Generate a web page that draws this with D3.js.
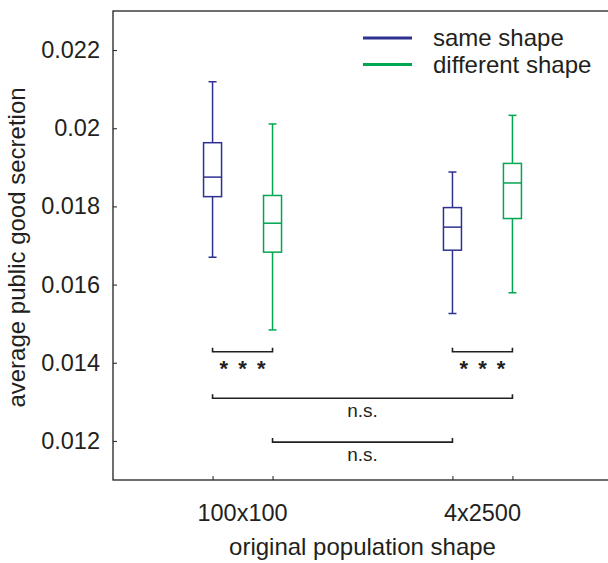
<!DOCTYPE html>
<html>
<head>
<meta charset="utf-8">
<script src="https://cdn.jsdelivr.net/npm/d3@7"></script>
<style>
  body { margin: 0; background: #fff; }
  text { font-family: "Liberation Sans", Arial, Helvetica, sans-serif; fill: #231f20; }
</style>
</head>
<body>
<div id="canvas"></div>
<script>
const W = 608, H = 563;
const margin = { top: 11, right: -4, bottom: 83, left: 113 };
const width = W - margin.left - margin.right;
const height = H - margin.top - margin.bottom;

// data: [lower whisker, Q1, median, Q3, upper whisker]
const groups = ["100x100", "4x2500"];
const seriesNames = ["same shape", "different shape"];
const seriesColors = ["#2e3192", "#00a651"];
const sameShape = [
  [0.01670, 0.01825, 0.01875, 0.01963, 0.02119],
  [0.01526, 0.01688, 0.01747, 0.01797, 0.01888]
];
const diffShape = [
  [0.01484, 0.01683, 0.01757, 0.01828, 0.02011],
  [0.01579, 0.01769, 0.01860, 0.01910, 0.02033]
];
const yTicks = [0.012, 0.014, 0.016, 0.018, 0.02, 0.022];
const yTickLabels = ["0.012", "0.014", "0.016", "0.018", "0.02", "0.022"];
// significance brackets: [group, series] endpoints, height, label
const brackets = [
  { a: [0, 0], b: [0, 1], y: 0.01428, label: "* * *" },
  { a: [1, 0], b: [1, 1], y: 0.01428, label: "* * *" },
  { a: [0, 0], b: [1, 1], y: 0.01309, label: "n.s." },
  { a: [0, 1], b: [1, 0], y: 0.01197, label: "n.s." }
];

const svg = d3.select("#canvas")
  .append("svg")
    .attr("width", W)
    .attr("height", H)
  .append("g")
    .attr("transform", `translate(${margin.left}, ${margin.top})`);

const xScale = d3.scaleLinear()
  .domain([0.46, 2.54])
  .range([0, width]);

const yScale = d3.scaleLinear()
  .domain([0.011, 0.023])
  .range([height, 0]);

const offset = 0.125;
const boxW = 18, capW = 8;
function xPos(g, s) { return xScale(g + 1 + (s === 0 ? -offset : offset)); }

// frame
svg.append("rect")
  .attr("width", width)
  .attr("height", height)
  .style("fill", "none")
  .style("stroke", "#231f20")
  .style("stroke-width", 1.3);

// y axis, ticks inward
const yAxis = d3.axisLeft(yScale).tickValues(yTicks).tickSize(-4).tickPadding(13)
  .tickFormat((d, i) => yTickLabels[i]);
svg.append("g")
  .attr("class", "y-axis")
  .call(yAxis)
  .call(g => g.select(".domain").remove())
  .call(g => g.selectAll("line").style("stroke", "#231f20"))
  .selectAll("text")
  .style("font-size", "23.5px")
  .style("fill", "#231f20");

// x axis: ticks at each box, labels at group centres
const tickPos = [];
groups.forEach((g, gi) => [0, 1].forEach(s => tickPos.push(gi + 1 + (s === 0 ? -offset : offset))));
svg.append("g")
  .attr("class", "x-axis")
  .attr("transform", `translate(0, ${height})`)
  .call(d3.axisBottom(xScale).tickValues(tickPos).tickSize(-4).tickFormat(""))
  .call(g => g.select(".domain").remove())
  .call(g => g.selectAll("line").style("stroke", "#231f20"));

svg.append("g")
  .selectAll("text")
  .data(groups)
  .enter().append("text")
  .attr("x", (d, i) => xScale(i + 1))
  .attr("y", height + 41)
  .attr("text-anchor", "middle")
  .style("font-size", "23.5px")
  .text(d => d);

svg.append("text")
  .attr("x", xScale(1.5))
  .attr("y", height + 75)
  .attr("text-anchor", "middle")
  .style("font-size", "24px")
  .text("original population shape");

svg.append("text")
  .attr("transform", `translate(-88, ${height / 2 + 2}) rotate(-90)`)
  .attr("text-anchor", "middle")
  .style("font-size", "24px")
  .text("average public good secretion");

// boxes
[sameShape, diffShape].forEach((series, s) => {
  const col = seriesColors[s];
  series.forEach((v, g) => {
    const cx = xPos(g, s);
    const box = svg.append("g").style("stroke", col).style("stroke-width", 1.5).style("fill", "none");
    box.append("line").attr("x1", cx).attr("x2", cx).attr("y1", yScale(v[0])).attr("y2", yScale(v[1]));
    box.append("line").attr("x1", cx).attr("x2", cx).attr("y1", yScale(v[3])).attr("y2", yScale(v[4]));
    box.append("line").attr("x1", cx - capW / 2).attr("x2", cx + capW / 2).attr("y1", yScale(v[0])).attr("y2", yScale(v[0]));
    box.append("line").attr("x1", cx - capW / 2).attr("x2", cx + capW / 2).attr("y1", yScale(v[4])).attr("y2", yScale(v[4]));
    box.append("rect").attr("x", cx - boxW / 2).attr("width", boxW)
      .attr("y", yScale(v[3])).attr("height", yScale(v[1]) - yScale(v[3]));
    box.append("line").attr("x1", cx - boxW / 2).attr("x2", cx + boxW / 2).attr("y1", yScale(v[2])).attr("y2", yScale(v[2]));
  });
});

// significance brackets
brackets.forEach(b => {
  const x1 = xPos(b.a[0], b.a[1]), x2 = xPos(b.b[0], b.b[1]), y = yScale(b.y);
  svg.append("path")
    .attr("d", `M${x1},${y - 4}V${y}H${x2}V${y - 4}`)
    .style("fill", "none")
    .style("stroke", "#231f20")
    .style("stroke-width", 1.6);
  const star = b.label !== "n.s.";
  svg.append("text")
    .attr("x", (x1 + x2) / 2 + (star ? 1 : 0))
    .attr("y", y + (star ? 24 : 19))
    .attr("text-anchor", "middle")
    .style("font-size", star ? "22px" : "19px")
    .style("font-weight", star ? "bold" : "normal")
    .style("letter-spacing", star ? "2px" : "0px")
    .text(b.label);
});

// legend
const legend = svg.append("g").attr("transform", `translate(${363 - margin.left}, ${38 - margin.top})`);
seriesNames.forEach((name, i) => {
  legend.append("line")
    .attr("x1", 0).attr("x2", 49)
    .attr("y1", i * 26.5).attr("y2", i * 26.5)
    .style("stroke", seriesColors[i])
    .style("stroke-width", 3);
  legend.append("text")
    .attr("x", 70)
    .attr("y", i * 26.5 + 8)
    .style("font-size", "24px")
    .text(name);
});
</script>
</body>
</html>
